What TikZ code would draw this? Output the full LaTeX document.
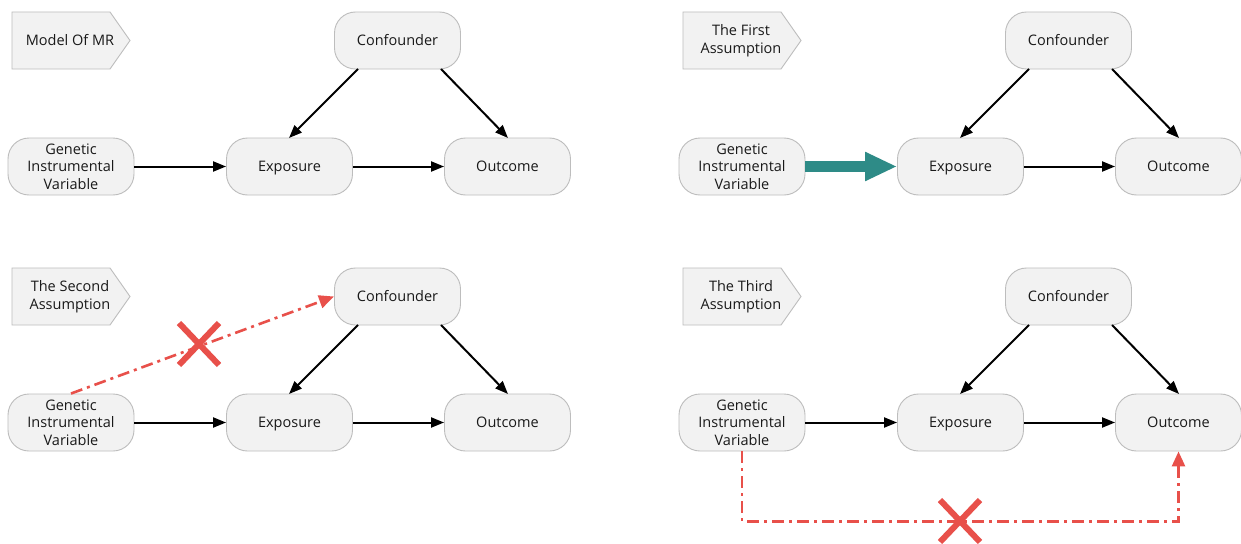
\documentclass[tikz,border=0pt]{standalone}
\usepackage{fontspec}
\setmainfont{Open Sans}
\usetikzlibrary{arrows.meta,calc}
\definecolor{nodefill}{HTML}{F2F2F2}
\definecolor{nodeline}{HTML}{BDBDBD}
\definecolor{mrred}{HTML}{E8504A}
\definecolor{mrteal}{HTML}{2E8B87}
\tikzset{
  box/.style={draw=nodeline, fill=nodefill, line width=0.9pt, rounded corners=21pt,
    minimum width=126pt, minimum height=57pt, align=center, inner sep=0pt,
    font=\fontsize{14.5}{17.5}\selectfont, text=black!90},
  onebox/.style={box, text height=12pt, text depth=1.6pt},
  tagtext/.style={align=center, inner sep=0pt, font=\fontsize{14.5}{17.5}\selectfont, text=black!90},
  tagshape/.style={draw=nodeline, fill=nodefill, line width=0.9pt},
  link/.style={line width=2pt, -{Triangle[length=13pt,width=10pt]}},
  redlink/.style={draw=mrred, line width=2.6pt, dash pattern=on 12pt off 5pt on 3pt off 5pt,
    -{Triangle[length=15pt,width=13pt]}, mrred},
  cross/.style={draw=mrred, line width=6pt},
  teal/.style={draw=mrteal, line width=11pt, -{Triangle[length=32pt,width=27pt]}, mrteal}
}
\newcommand{\mrpanel}[4]{%
  \begin{scope}[shift={(#2,#3)}]
    \draw[tagshape] (12,12) -- (110,12) -- (130,40.5) -- (110,69) -- (12,69) -- cycle;
    \node[tagtext] (t#1) at (70,40.5) {#4};
    \node[onebox] (c#1) at (397.5,40.5) {Confounder};
    \node[box] (g#1) at (71,166.5) {Genetic\\Instrumental\\Variable};
    \node[onebox] (e#1) at (289.5,166.5) {Exposure};
    \node[onebox] (o#1) at (507.5,166.5) {Outcome};
    \coordinate (cl#1) at (358,69);
    \coordinate (cr#1) at (441,69);
    \coordinate (et#1) at (289,138);
    \coordinate (ot#1) at (508,138);
    \draw[link] (cl#1) -- (et#1);
    \draw[link] (cr#1) -- (ot#1);
    \draw[link] (e#1.east) -- (o#1.west);
  \end{scope}}
\begin{document}
\begin{tikzpicture}[x=1pt,y=-1pt]
  \useasboundingbox (0,0) rectangle (1241,543);
  \fill[white] (0,0) rectangle (1241,543);
  \mrpanel{1}{0}{0}{Model Of MR}
  \mrpanel{2}{671}{0}{The First\\Assumption}
  \mrpanel{3}{0}{256}{The Second\\Assumption}
  \mrpanel{4}{671}{256}{The Third\\Assumption}
  % panel 1
  \draw[link] (g1.east) -- (e1.west);
  % panel 2
  \draw[teal] (g2.east) -- (e2.west);
  % panel 3
  \draw[link] (g3.east) -- (e3.west);
  \draw[redlink] (g3.north) -- (c3.west);
  \coordinate (x3) at (199,344);
  \draw[cross] ($(x3)+(-20,-21)$) -- ($(x3)+(20,21)$);
  \draw[cross] ($(x3)+(-20,21)$) -- ($(x3)+(20,-21)$);
  % panel 4
  \draw[link] (g4.east) -- (e4.west);
  \draw[redlink] (g4.south) -- ++(0,70) -| (o4.south);
  \coordinate (x4) at (960,521);
  \draw[cross] ($(x4)+(-20,-21)$) -- ($(x4)+(20,21)$);
  \draw[cross] ($(x4)+(-20,21)$) -- ($(x4)+(20,-21)$);
\end{tikzpicture}
\end{document}
